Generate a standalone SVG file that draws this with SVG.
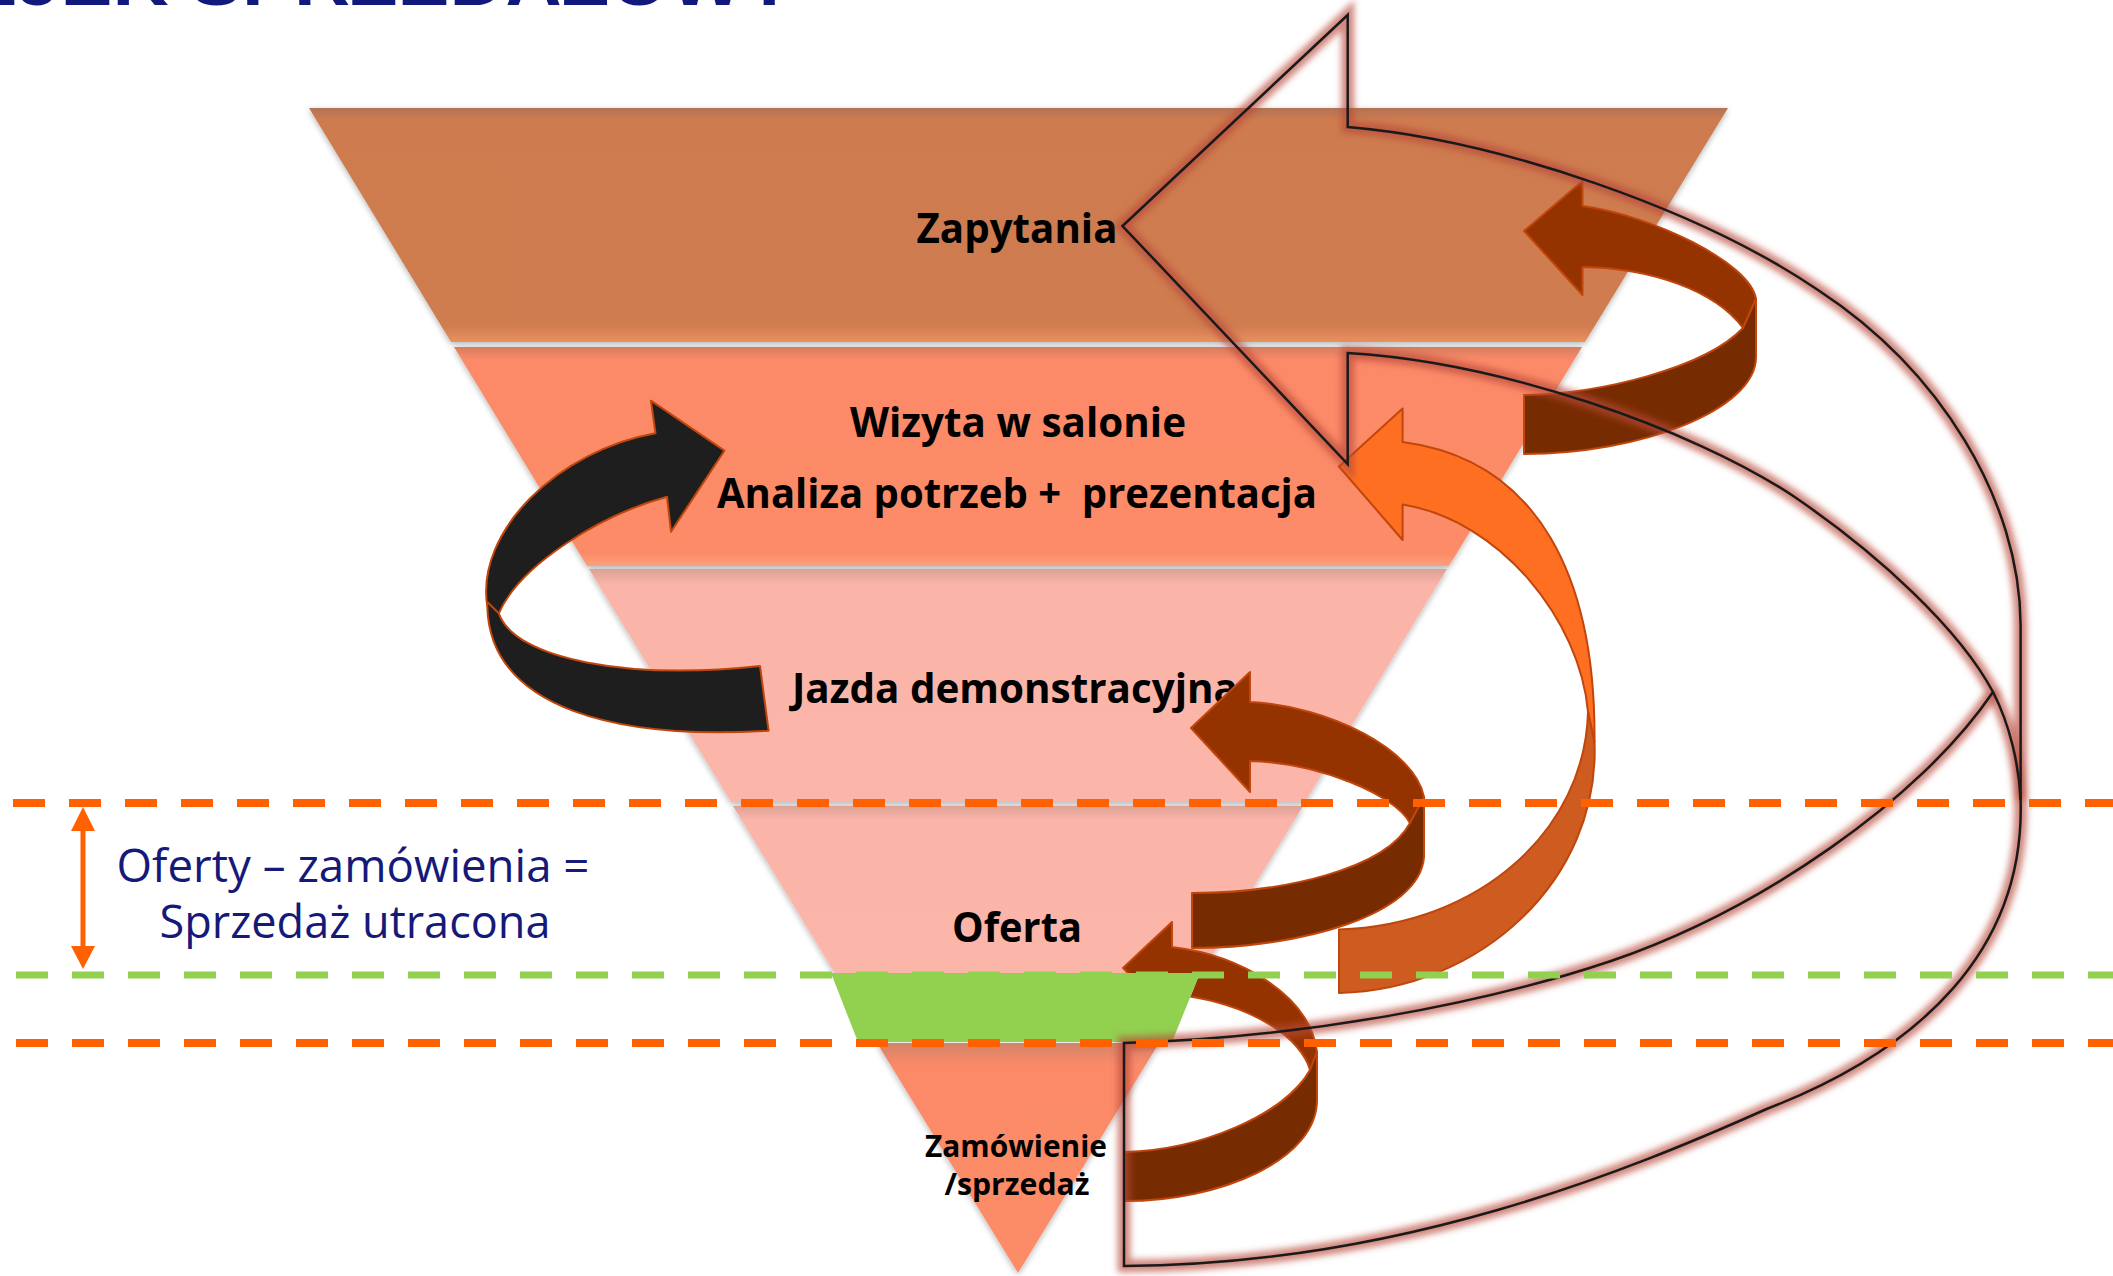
<svg xmlns="http://www.w3.org/2000/svg" width="2113" height="1276" viewBox="0 0 2113 1276">
<defs>
<style>
.lbl{font-family:"Open Sans","DejaVu Sans",sans-serif;font-weight:700;fill:#000;text-anchor:middle}
.side{font-family:"Open Sans","DejaVu Sans",sans-serif;font-weight:400;fill:#15197A;text-anchor:middle}
.rib{stroke:#C0460C;stroke-width:2;stroke-linejoin:round}
.dk{fill:#953300}
.dk2{fill:#772B00}
.or{fill:#FF6F22}
.or2{fill:#CE5B1F}
.blk{fill:#1E1E1E}
.dash-o{stroke:#FF6000;stroke-width:8;stroke-dasharray:32 24;fill:none}
.dash-g{stroke:#92D050;stroke-width:7;stroke-dasharray:32 24;fill:none}
.fo{fill:none;stroke:#1A1A1A;stroke-width:2.5;stroke-linejoin:miter}
.fg{fill:none;stroke:#B84A3A;stroke-opacity:0.65;stroke-width:13}
.band{filter:url(#sh)}
</style>
<linearGradient id="g1" x1="0" y1="0" x2="0" y2="1">
<stop offset="0" stop-color="#B27354"/><stop offset="0.05" stop-color="#CE7B4F"/><stop offset="0.93" stop-color="#CF7C50"/><stop offset="1" stop-color="#E9915F"/>
</linearGradient>
<linearGradient id="g2" x1="0" y1="0" x2="0" y2="1">
<stop offset="0" stop-color="#D67D62"/><stop offset="0.06" stop-color="#FC8A67"/><stop offset="0.94" stop-color="#FC8B68"/><stop offset="1" stop-color="#FFA07A"/>
</linearGradient>
<linearGradient id="g3" x1="0" y1="0" x2="0" y2="1">
<stop offset="0" stop-color="#DDA196"/><stop offset="0.07" stop-color="#FBB5A8"/><stop offset="1" stop-color="#FBB6A9"/>
</linearGradient>
<linearGradient id="g4" x1="0" y1="0" x2="0" y2="1">
<stop offset="0" stop-color="#DDA196"/><stop offset="0.08" stop-color="#FBB5A8"/><stop offset="1" stop-color="#FBB6A9"/>
</linearGradient>
<linearGradient id="g6" x1="0" y1="0" x2="0" y2="1">
<stop offset="0" stop-color="#D4836A"/><stop offset="0.1" stop-color="#FC8A67"/><stop offset="1" stop-color="#FC8C68"/>
</linearGradient>
<filter id="sh" x="-5%" y="-5%" width="110%" height="115%">
<feGaussianBlur in="SourceAlpha" stdDeviation="3"/><feOffset dy="2"/>
<feComponentTransfer><feFuncA type="linear" slope="0.3"/></feComponentTransfer>
<feMerge><feMergeNode/><feMergeNode in="SourceGraphic"/></feMerge>
</filter>
<filter id="blur" filterUnits="userSpaceOnUse" x="0" y="0" width="2113" height="1276">
<feGaussianBlur stdDeviation="3"/>
</filter>
<clipPath id="noGreen">
<path clip-rule="evenodd" d="M0 0H2113V1276H0Z M831 973 L1200 973 L1172 1042 L858 1042 Z"/>
</clipPath>
</defs>

<g id="title">
<text x="-82" y="5" font-family="'Liberation Sans',Arial,sans-serif" font-size="74" font-weight="700" fill="#111A7C" textLength="877" lengthAdjust="spacingAndGlyphs">LEJEK SPRZEDAŻOWY</text>
</g>

<g id="node-zapytania">
<polygon class="band" points="309,108 1728,108 1585,342 451,342" fill="url(#g1)"/>
<text class="lbl" x="1017" y="243" font-size="42" textLength="201" lengthAdjust="spacingAndGlyphs">Zapytania</text>
</g>
<g id="node-wizyta">
<polygon class="band" points="454,347 1582,347 1449,566 587,566" fill="url(#g2)"/>
<text class="lbl" x="1018" y="437" font-size="42" textLength="336" lengthAdjust="spacingAndGlyphs">Wizyta w salonie</text>
<text class="lbl" x="1017" y="508" font-size="42" textLength="600" lengthAdjust="spacingAndGlyphs" xml:space="preserve">Analiza potrzeb +  prezentacja</text>
</g>
<g id="node-jazda">
<polygon class="band" points="589,569 1447,569 1305,802 731,802" fill="url(#g3)"/>
<text class="lbl" x="1015" y="703" font-size="42" textLength="446" lengthAdjust="spacingAndGlyphs">Jazda demonstracyjna</text>
</g>
<g id="node-oferta">
<polygon class="band" points="733,806 1303,806 1200,975 836,975" fill="url(#g4)"/>
<text class="lbl" x="1017" y="942" font-size="42" textLength="130" lengthAdjust="spacingAndGlyphs">Oferta</text>
</g>
<g id="node-zamowienie">
<polygon class="band" points="877,1043 1159,1043 1018,1273" fill="url(#g6)"/>
<text class="lbl" x="1016" y="1157" font-size="31" textLength="182" lengthAdjust="spacingAndGlyphs">Zamówienie</text>
<text class="lbl" x="1017" y="1195" font-size="31" textLength="145" lengthAdjust="spacingAndGlyphs">/sprzedaż</text>
</g>

<g id="connectors">
<g id="arrow-e" clip-path="url(#noGreen)">
<path class="dk rib" d="M1123 968 L1172 922 L1172 947 C1240 955 1310 995 1317 1052 L1310 1070 C1302 1040 1255 1003 1172 994 L1172 1018 Z"/>
<path class="dk2 rib" d="M1317 1052 L1317 1100 C1317 1160 1220 1201 1125 1201 L1125 1152 C1200 1150 1285 1115 1310 1070 Z"/>
</g>
<g id="node-green">
<polygon points="831,973 1200,973 1172,1042 858,1042" fill="#92D050"/>
</g>
<g id="arrow-a">
<path class="blk rib" d="M724.4 450.7 L671 531.7 L667 496.7 C600 515 520 565 498.8 613.3 C515 660 630 680 760 666 L768.6 730.7 C620 740 490 710 487.3 606.7 C475 530 560 450 655.5 433.3 L650.9 400.7 Z"/>
<path class="rib" fill="none" d="M487.3 602 L498.8 613.3"/>
</g>
<g id="arrow-b">
<path class="dk rib" d="M1524 231 L1582.5 181 L1582.5 206 C1650 215 1750 262 1756 299 L1743 328 C1715 290 1650 268 1582.5 267 L1582.5 295 Z"/>
<path class="dk2 rib" d="M1756 299 L1756 357 C1756 410 1640 454 1524 454 L1524 395 C1600 394 1705 368 1743 328 Z"/>
</g>
<g id="arrow-d">
<path class="dk rib" d="M1191 728 L1250 672 L1250 702 C1330 706 1415 750 1424 797 L1410 823 C1395 795 1320 763 1250 761 L1250 792 Z"/>
<path class="dk2 rib" d="M1424 797 L1424 857 C1420 915 1300 948 1192 948 L1192 893 C1280 893 1385 870 1410 823 Z"/>
</g>
<g id="arrow-c">
<path class="or rib" d="M1339 466.5 L1402.6 408.5 L1402.6 442 C1540 460 1596 580 1594.5 742 L1588 712 C1580 620 1500 520 1402.6 504.5 L1402.6 540 Z"/>
<path class="or2 rib" d="M1588 712 C1585 830 1480 925 1339 929.5 L1339 993 C1480 990 1600 880 1594.5 742 Z"/>
</g>
<g id="arrow-f">
<g filter="url(#blur)">
<path class="fg" d="M1122.5 226 L1347.7 15 L1347.7 127 C1500 140 1700 210 1818 290 C1940 370 2020 500 2020.6 625 L2020.6 800 C2025 950 1920 1050 1766.6 1109 C1630 1170 1400 1265 1124 1266 L1124 1043 C1300 1038 1480 1005 1611 961 C1760 910 1920 800 1993 692 C1960 630 1880 555 1792.5 495.5 C1690 428 1500 362 1347.7 353 L1347.7 464 Z"/>
<path class="fg" d="M1993 692 C2010 725 2019 765 2020.6 800"/>
</g>
<path class="fo" d="M1122.5 226 L1347.7 15 L1347.7 127 C1500 140 1700 210 1818 290 C1940 370 2020 500 2020.6 625 L2020.6 800 C2025 950 1920 1050 1766.6 1109 C1630 1170 1400 1265 1124 1266 L1124 1043 C1300 1038 1480 1005 1611 961 C1760 910 1920 800 1993 692 C1960 630 1880 555 1792.5 495.5 C1690 428 1500 362 1347.7 353 L1347.7 464 Z"/>
<path class="fo" d="M1993 692 C2010 725 2019 765 2020.6 800"/>
</g>
</g>

<g id="levels">
<path class="dash-o" d="M13 803 H2113"/>
<path class="dash-g" d="M16 975 H2113"/>
<path class="dash-o" d="M16 1043 H2113"/>
</g>

<g id="lost-sales">
<line x1="83" y1="826" x2="83" y2="950" stroke="#FF6000" stroke-width="5"/>
<polygon points="83,807 95,831 71,831" fill="#FF6000"/>
<polygon points="83,969 95,946 71,946" fill="#FF6000"/>
<text class="side" x="353" y="882" font-size="45" textLength="473" lengthAdjust="spacingAndGlyphs">Oferty – zamówienia =</text>
<text class="side" x="355" y="938" font-size="45" textLength="391" lengthAdjust="spacingAndGlyphs">Sprzedaż utracona</text>
</g>
</svg>
